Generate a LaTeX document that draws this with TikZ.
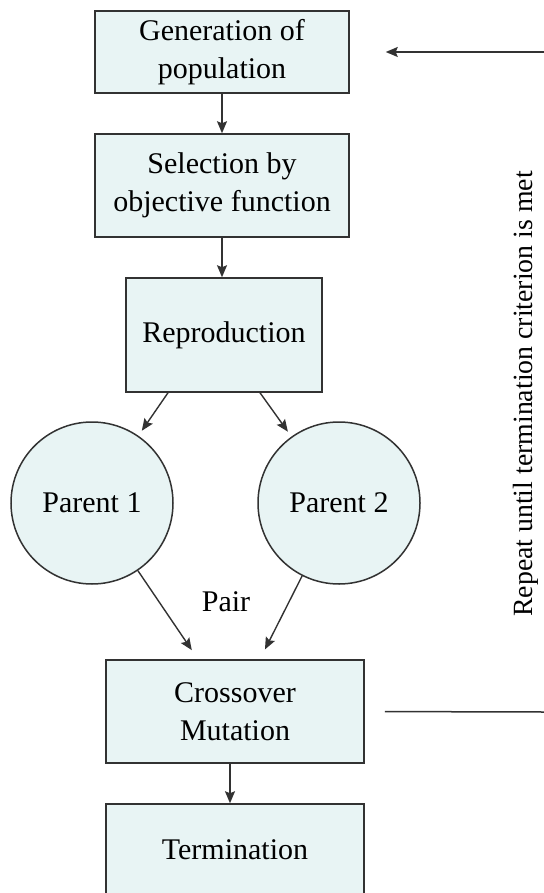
\documentclass[tikz,border=0pt]{standalone}
\usepackage{fontspec}
\setmainfont{Liberation Serif}
\usepackage{xcolor}
\usepackage{tikz}
\usetikzlibrary{arrows.meta, shapes, positioning, calc}

\definecolor{gafill}{RGB}{232,244,244}
\definecolor{gaedge}{RGB}{50,50,50}

\begin{document}
\begin{tikzpicture}[
        x=0.5pt, y=-0.5pt,
        every node/.style={font=\fontsize{15pt}{18.75pt}\selectfont},
        stage/.style={rectangle, draw=gaedge, fill=gafill, line width=0.75pt, align=center, inner sep=0pt},
        parent/.style={circle, draw=gaedge, fill=gafill, line width=0.75pt, minimum size=81pt, inner sep=0pt},
        arrow/.style={line width=0.7pt, draw=gaedge, -{Stealth[length=6pt, width=5pt, inset=1pt]}}
    ]
        \useasboundingbox (0,0) rectangle (544,893);
        \clip (0,0) rectangle (544,893);

        \node (gen) [stage, minimum width=127pt, minimum height=41pt] at (222,52) {Generation of\\population};
        \node (sel) [stage, minimum width=127pt, minimum height=51.5pt] at (222,185.5) {Selection by\\objective function};
        \node (repro) [stage, minimum width=98pt, minimum height=57pt] at (224,335) {Reproduction};
        \node (p1) [parent] at (92,503) {Parent 1};
        \node (p2) [parent] at (339,503) {Parent 2};
        \node (cross) [stage, minimum width=129pt, minimum height=51.5pt] at (235,711.5) {Crossover\\Mutation};
        \node (term) [stage, minimum width=129pt, minimum height=46pt] at (235,850) {Termination};
        \node (pair) at (226,602) {Pair};
        \node (loop) [rotate=90, font=\fontsize{13.9pt}{17pt}\selectfont] at (526,394) {Repeat until termination criterion is met};

        \coordinate (loopin) at (544,52);
        \coordinate (loopout) at (544,712);

        \draw [arrow] (gen.south) -- (sel.north);
        \draw [arrow] (sel.south) -- (sel.south |- repro.north);
        \draw [arrow, shorten >=3pt] ([xshift=-28pt]repro.south) -- (p1);
        \draw [arrow, shorten >=3pt] ([xshift=18pt]repro.south) -- (p2);
        \draw [arrow, shorten >=5.5pt] (p1) -- ([xshift=-18.5pt]cross.north);
        \draw [arrow, shorten >=5.5pt] (p2) -- ([xshift=12.5pt]cross.north);
        \draw [arrow] ([xshift=-2.5pt]cross.south) -- ([xshift=-2.5pt]term.north);
        \draw [line width=0.75pt, draw=gaedge, shorten <=10pt] (cross.east) -- (loopout);
        \draw [arrow, shorten >=18pt] (loopin) -- (gen.east);
    \end{tikzpicture}
\end{document}
